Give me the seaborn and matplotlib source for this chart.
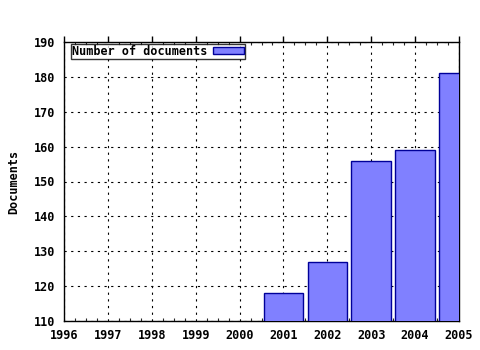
import matplotlib
matplotlib.use("Agg")
import matplotlib.pyplot as plt
import seaborn as sns
import pandas as pd
from matplotlib.ticker import MultipleLocator

years = [2001, 2002, 2003, 2004, 2005]
documents = [118, 127, 156, 159, 181]
xticks = list(range(1996, 2006))
series_label = "Number of documents"

sns.set_style("white")
plt.rcParams['font.family'] = ['DejaVu Sans Mono']
plt.rcParams['font.weight'] = 'bold'
plt.rcParams['text.color'] = 'black'
plt.rcParams['axes.labelcolor'] = 'black'

df = pd.DataFrame({"year": years, "docs": documents})

fig = plt.figure(figsize=(4.8, 3.5), dpi=100)
ax = fig.add_axes([64/480, 1-321/350, (459-64)/480, (321-42)/350])
sns.barplot(data=df, x="year", y="docs", native_scale=True, width=0.9,
            color="#8080ff", edgecolor="#000099", linewidth=1.0,
            saturation=1, label=series_label, ax=ax, zorder=3)
ax.set_xlim(1996, 2005)
ax.set_ylim(110, 190)
ax.set_xticks(xticks)
ax.set_xticklabels([str(y) for y in xticks])
ax.set_yticks(range(110, 191, 10))
ax.xaxis.set_minor_locator(MultipleLocator(0.25))
ax.grid(True, which="major", color="black", linestyle=(0, (2, 4)), linewidth=0.8, zorder=0)
ax.set_axisbelow(True)
for s in ax.spines.values():
    s.set_color("black")
    s.set_linewidth(1.0)
ax.tick_params(axis="both", which="major", direction="out", length=4, width=1,
               labelsize=8.5, colors="black", labelcolor="black", pad=2)
ax.tick_params(axis="x", which="minor", direction="in", length=2, width=0.8, bottom=True, top=True)
ax.tick_params(axis="x", which="major", top=True)
ax.set_xlabel("")
ax.set_ylabel("Documents", fontsize=8.5, fontweight="bold", labelpad=10, color="black")
for lab in ax.get_xticklabels() + ax.get_yticklabels():
    lab.set_fontweight("bold")
leg = ax.legend(loc="upper left", bbox_to_anchor=(7/395, 1 - 1.5/279), markerfirst=False,
                frameon=True, fancybox=False,
                prop={"size": 8.5, "weight": "bold"}, borderpad=0.1, handlelength=2.6,
                handleheight=0.6, borderaxespad=0, edgecolor="black", handletextpad=0.5)
leg.get_frame().set_linewidth(1.0)
for t in leg.get_texts():
    t.set_color("black")
fig.savefig("out.png", dpi=100)
